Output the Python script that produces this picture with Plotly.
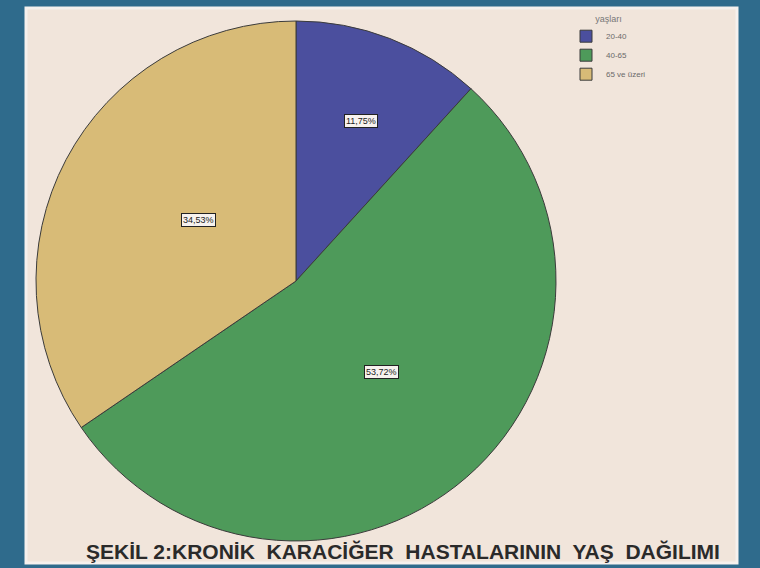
import math
import plotly.graph_objects as go

# Age groups of chronic liver disease patients (percent)
age_groups = ["20-40", "40-65", "65 ve üzeri"]
shares = [11.75, 53.72, 34.53]
slice_colors = ["#4b4f9e", "#4e9a5a", "#d8bb77"]

W, H = 760, 568
cx, cy, R = 296, 281, 260  # pie centre and radius in pixels

fig = go.Figure()
fig.add_trace(go.Pie(
    labels=age_groups,
    values=shares,
    sort=False,
    direction="clockwise",
    rotation=0,
    textinfo="none",
    hoverinfo="label+percent",
    marker=dict(colors=slice_colors, line=dict(color="#3b3b3b", width=1)),
    domain=dict(x=[(cx - R) / W, (cx + R) / W], y=[1 - (cy + R) / H, 1 - (cy - R) / H]),
))

# boxed percentage labels placed at each slice's mid angle
label_radius = [0.69, 0.5, 0.5]
total = sum(shares)
acc = 0.0
annotations = []
for v, rf in zip(shares, label_radius):
    mid = (acc + v / 2) / total * 2 * math.pi
    acc += v
    px = cx + rf * R * math.sin(mid)
    py = cy - rf * R * math.cos(mid)
    annotations.append(dict(
        x=px / W, y=1 - py / H, xref="paper", yref="paper",
        text=f"{v:.2f}%".replace(".", ","), showarrow=False,
        font=dict(family="Liberation Sans Narrow, Arial Narrow, Liberation Sans", size=9, color="#222"),
        bgcolor="#f7f2ee", bordercolor="#222", borderwidth=1, borderpad=1,
    ))

annotations.append(dict(
    x=403 / W, y=1 - 551 / H, xref="paper", yref="paper",
    xanchor="center", yanchor="middle",
    text="ŞEKİL 2:KRONİK  KARACİĞER  HASTALARININ  YAŞ  DAĞILIMI".replace("  ", "\u00a0 "),
    showarrow=False,
    font=dict(family="Liberation Sans", size=21, color="#2a2a2a", weight="bold"),
))

fig.update_layout(
    width=W, height=H,
    margin=dict(l=0, r=0, t=0, b=0),
    paper_bgcolor="#2f6b8c",
    plot_bgcolor="#f1e5db",
    showlegend=True,
    legend=dict(
        x=566 / W, y=1 - 10 / H, xanchor="left", yanchor="top",
        bgcolor="rgba(0,0,0,0)",
        font=dict(family="Liberation Sans", size=8, color="#6a6a6a"),
        title=dict(text="yaşları", side="top center", font=dict(size=9, color="#777")),
        itemwidth=30, tracegroupgap=0,
    ),
    shapes=[
        dict(type="rect", xref="paper", yref="paper", layer="below",
             x0=26 / W, x1=737 / W, y0=1 - 563 / H, y1=1 - 8 / H,
             fillcolor="#f1e5db", line=dict(color="#f6f1ee", width=3)),
    ],
    annotations=annotations,
)

fig.write_html("out.html")
